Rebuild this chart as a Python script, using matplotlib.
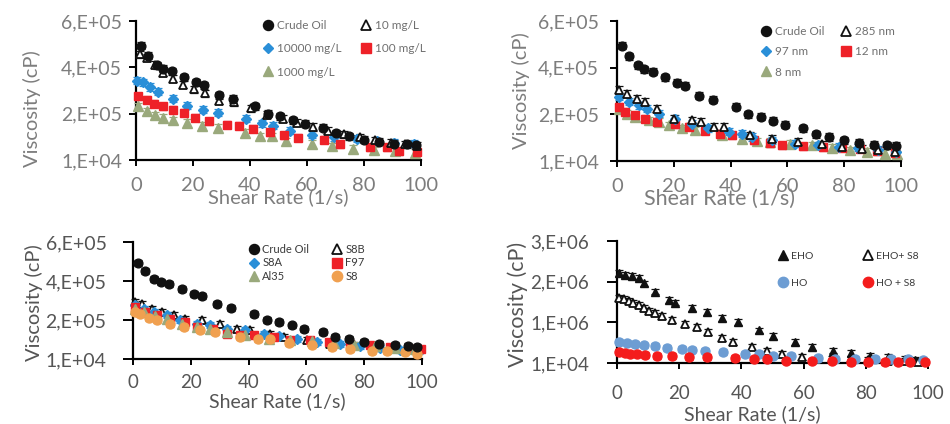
import numpy as np
import matplotlib
matplotlib.use("Agg")
import matplotlib.pyplot as plt
from matplotlib.ticker import FixedLocator, FuncFormatter
from matplotlib.lines import Line2D
from matplotlib.legend import Legend

plt.rcParams["font.family"] = ["Lato", "DejaVu Sans"]

# ---------------------------------------------------------------- data
# Crude oil reference curve (shared by the three upper/left panels)
crude_x = [1.9, 4.1, 7.3, 9.6, 12.6, 17.0, 21.2, 23.8, 29.0, 33.9, 41.9, 46.3,
           50.6, 55.0, 59.2, 65.6, 70.0, 74.8, 80.0, 85.2, 90.6, 95.0, 98.1]
crude_y = [4.96e5, 4.52e5, 4.13e5, 3.97e5, 3.86e5, 3.62e5, 3.39e5, 3.28e5,
           2.85e5, 2.69e5, 2.38e5, 2.06e5, 1.96e5, 1.79e5, 1.63e5, 1.47e5,
           1.23e5, 1.11e5, 9.7e4, 8.7e4, 7.9e4, 7.6e4, 7.3e4]

# Panel 1: concentration series
c10_x = [1.4, 3.7, 6.7, 9.5, 12.9, 16.6, 20.5, 24.2, 29.2, 34.4, 40.5, 46.0,
         51.5, 56.5, 62.0, 67.5, 73.0, 78.5, 84.0, 89.5, 94.5, 98.5]
c10_y = [4.59e5, 4.45e5, 4.14e5, 3.80e5, 3.54e5, 3.30e5, 3.10e5, 2.94e5,
         2.62e5, 2.56e5, 2.30e5, 2.02e5, 1.85e5, 1.68e5, 1.50e5, 1.35e5,
         1.20e5, 1.06e5, 9.4e4, 8.4e4, 7.6e4, 7.0e4]
c10000_x = [0.5, 2.6, 4.9, 7.8, 12.9, 17.8, 23.4, 28.9, 38.6, 44.1, 48.2, 54.1,
            61.7, 69.3, 77.5, 84.5, 90.4, 97.4]
c10000_y = [3.47e5, 3.40e5, 3.20e5, 3.00e5, 2.70e5, 2.40e5, 2.24e5, 2.10e5,
            1.85e5, 1.65e5, 1.56e5, 1.35e5, 1.18e5, 1.07e5, 1.00e5, 9.0e4,
            8.3e4, 8.0e4]
c100_x = [0.8, 3.7, 6.3, 9.3, 13.1, 16.9, 20.8, 25.5, 31.9, 36.0, 41.2, 47.1,
          51.8, 57.0, 65.8, 71.7, 82.2, 88.1, 92.2, 98.6]
c100_y = [2.80e5, 2.66e5, 2.49e5, 2.38e5, 2.24e5, 2.10e5, 1.89e5, 1.75e5,
          1.60e5, 1.56e5, 1.42e5, 1.28e5, 1.14e5, 1.04e5, 9.7e4, 7.6e4,
          6.5e4, 6.5e4, 4.8e4, 4.5e4]
c1000_x = [0.8, 3.7, 6.6, 9.5, 13.1, 17.8, 23.0, 28.9, 38.3, 43.6, 47.7, 52.5,
           61.7, 68.7, 76.3, 83.4, 91.0, 98.0]
c1000_y = [2.38e5, 2.17e5, 1.99e5, 1.89e5, 1.79e5, 1.68e5, 1.56e5, 1.47e5,
           1.25e5, 1.11e5, 1.11e5, 9.0e4, 8.0e4, 6.9e4, 5.8e4, 5.2e4, 4.8e4,
           4.1e4]

# Panel 2: particle size series
s285_x = [0.8, 3.5, 7.0, 10.0, 14.1, 19.9, 26.4, 29.5, 34.0, 37.5, 46.9, 54.5,
          63.9, 72.1, 79.1, 86.2, 92.0, 97.9]
s285_y = [3.09e5, 2.94e5, 2.73e5, 2.59e5, 2.31e5, 1.89e5, 1.82e5, 1.75e5,
          1.54e5, 1.54e5, 1.18e5, 1.04e5, 9.0e4, 8.0e4, 6.9e4, 6.2e4, 5.5e4,
          4.8e4]
s97_x = [0.8, 4.1, 7.6, 10.5, 14.7, 20.5, 26.4, 32.2, 39.3, 44.0, 47.5, 54.5,
         62.7, 70.9, 78.0, 85.0, 92.0, 98.1]
s97_y = [2.80e5, 2.59e5, 2.45e5, 2.31e5, 2.10e5, 1.89e5, 1.68e5, 1.47e5,
         1.33e5, 1.25e5, 1.11e5, 9.7e4, 8.3e4, 7.6e4, 6.9e4, 6.6e4, 5.8e4,
         4.8e4]
s12_x = [0.6, 2.9, 6.4, 10.0, 14.1, 20.5, 25.2, 31.1, 36.3, 40.4, 48.1, 53.9,
         58.0, 65.6, 72.7, 79.1, 85.6, 91.4, 97.9]
s12_y = [2.38e5, 2.17e5, 2.03e5, 1.89e5, 1.75e5, 1.65e5, 1.54e5, 1.37e5,
         1.25e5, 1.18e5, 9.7e4, 8.6e4, 7.6e4, 7.2e4, 6.9e4, 6.6e4, 6.2e4,
         5.2e4, 4.4e4]
s8_x = [0.6, 3.5, 6.4, 11.1, 14.7, 18.2, 22.9, 27.5, 36.9, 44.0, 49.2, 53.9,
        60.9, 68.6, 75.6, 82.1, 87.9, 94.4, 98.5]
s8_y = [2.31e5, 2.10e5, 1.96e5, 1.82e5, 1.75e5, 1.61e5, 1.47e5, 1.40e5,
        1.18e5, 1.04e5, 9.4e4, 9.0e4, 8.3e4, 7.6e4, 6.6e4, 5.5e4, 4.8e4,
        4.1e4, 3.8e4]

# Panel 3: nanoparticle type series
s8b_x = [0.8, 3.1, 6.6, 10.0, 14.1, 18.1, 23.9, 30.2, 36.0, 40.6, 47.5, 52.1,
         60.2, 68.3, 76.4, 84.4, 91.3, 98.3]
s8b_y = [2.97e5, 2.89e5, 2.64e5, 2.47e5, 2.30e5, 2.13e5, 2.05e5, 1.88e5,
         1.63e5, 1.55e5, 1.38e5, 1.21e5, 1.04e5, 8.7e4, 7.9e4, 7.0e4, 6.2e4,
         5.4e4]
s8a_x = [0.8, 3.7, 7.2, 11.8, 16.4, 22.1, 26.8, 32.5, 38.9, 45.2, 50.4, 56.7,
         63.7, 71.7, 78.7, 85.6, 92.5, 98.8]
s8a_y = [2.80e5, 2.64e5, 2.47e5, 2.30e5, 2.05e5, 1.88e5, 1.80e5, 1.63e5,
         1.55e5, 1.38e5, 1.26e5, 1.13e5, 9.6e4, 8.7e4, 7.6e4, 6.6e4, 5.7e4,
         4.9e4]
f97_x = [0.8, 4.2, 8.3, 12.9, 18.0, 22.1, 27.8, 32.5, 37.1, 41.7, 48.7, 54.4,
         61.4, 67.7, 75.2, 82.1, 89.0, 95.9, 99.7]
f97_y = [2.72e5, 2.47e5, 2.30e5, 2.13e5, 1.97e5, 1.71e5, 1.63e5, 1.38e5,
         1.29e5, 1.33e5, 1.21e5, 1.04e5, 1.04e5, 9.6e4, 8.7e4, 7.9e4, 7.0e4,
         6.2e4, 5.9e4]
al35_x = [0.8, 3.7, 7.7, 11.8, 17.0, 22.1, 26.8, 32.5, 38.9, 46.9, 54.4, 61.9,
          69.4, 76.4, 83.9, 90.8, 97.7]
al35_y = [2.64e5, 2.47e5, 2.27e5, 2.10e5, 1.88e5, 1.71e5, 1.60e5, 1.46e5,
          1.29e5, 1.13e5, 1.04e5, 9.9e4, 9.2e4, 8.2e4, 7.6e4, 6.6e4, 5.9e4]
ss8_x = [0.8, 2.5, 5.4, 8.3, 12.9, 17.5, 23.3, 28.4, 37.1, 43.4, 47.5, 53.9,
         62.0, 68.9, 75.2, 82.7, 87.9, 94.2, 98.3]
ss8_y = [2.47e5, 2.39e5, 2.17e5, 2.05e5, 1.88e5, 1.71e5, 1.55e5, 1.46e5,
         1.21e5, 1.13e5, 1.13e5, 9.2e4, 7.9e4, 7.1e4, 5.9e4, 4.9e4, 4.9e4,
         4.5e4, 3.7e4]

# Panel 4: heavy / extra-heavy oil
eho_x = [0.7, 2.7, 4.8, 7.0, 8.6, 12.3, 16.6, 18.7, 24.1, 28.9, 33.7, 39.0,
         45.5, 50.3, 57.2, 62.6, 69.5, 75.4, 81.3, 87.2, 92.5, 95.7]
eho_y = [2.21e6, 2.17e6, 2.14e6, 2.09e6, 1.96e6, 1.76e6, 1.55e6, 1.49e6,
         1.35e6, 1.26e6, 1.11e6, 1.02e6, 8.1e5, 6.7e5, 5.2e5, 3.97e5, 3.15e5,
         2.57e5, 1.91e5, 1.50e5, 1.09e5, 9.2e4]
ehos8_x = [0.7, 2.1, 3.7, 5.3, 7.0, 8.6, 10.2, 12.3, 14.4, 17.6, 21.9, 25.7,
           29.4, 33.7, 37.4, 43.3, 48.1, 52.9, 59.4, 69.0, 75.4, 80.7, 87.2,
           92.5, 96.8]
ehos8_y = [1.61e6, 1.58e6, 1.53e6, 1.49e6, 1.43e6, 1.35e6, 1.29e6, 1.24e6,
           1.16e6, 1.06e6, 9.7e5, 8.9e5, 7.7e5, 6.2e5, 5.2e5, 3.97e5, 3.15e5,
           2.33e5, 1.50e5, 1.09e5, 1.09e5, 9.2e4, 6.8e4, 6.8e4, 4.3e4]
ho_x = [0.7, 3.2, 5.9, 8.6, 12.3, 16.0, 20.9, 24.1, 28.3, 34.2, 41.2, 45.5,
        50.3, 56.1, 64.7, 70.1, 76.5, 82.9, 88.2, 93.6, 98.4]
ho_y = [5.2e5, 4.96e5, 4.8e5, 4.39e5, 4.22e5, 3.73e5, 3.56e5, 3.40e5, 3.15e5,
        2.74e5, 2.33e5, 2.33e5, 1.91e5, 1.75e5, 1.25e5, 1.09e5, 1.09e5,
        1.09e5, 1.09e5, 1.09e5, 9.2e4]
hos8_x = [0.7, 2.5, 4.3, 6.4, 9.1, 12.8, 17.6, 23.0, 28.9, 38.0, 43.9, 48.1,
          54.5, 62.6, 69.0, 75.4, 80.7, 86.1, 90.4, 94.1, 98.9]
hos8_y = [2.74e5, 2.57e5, 2.33e5, 2.33e5, 2.08e5, 1.75e5, 1.75e5, 1.50e5,
          1.50e5, 1.25e5, 1.09e5, 1.09e5, 6.8e4, 6.8e4, 6.8e4, 4.3e4, 4.3e4,
          4.3e4, 4.3e4, 4.3e4, 4.3e4]

# error bar half-widths
err_small = 1.5e4
err_large = 7.0e4

# axis ranges
x_range = (0, 100)
y_range_small = (1e4, 6e5)
y_range_large = (1e4, 3e6)
x_ticks = [0, 20, 40, 60, 80, 100]

x_title = "Shear Rate (1/s)"
y_title = "Viscosity (cP)"

# ---------------------------------------------------------------- styles
BLACK = "#111111"
BLUE = "#2a8fd8"
RED = "#ee2128"
OLIVE = "#9aa97c"
ORANGE = "#f0a050"
LBLUE = "#6d9dd3"
BRED = "#f41c1c"

STY = {
    "crude": dict(marker="o", mfc=BLACK, mec=BLACK, ms=6.3, ecolor=BLACK),
    "open": dict(marker="^", mfc="white", mec=BLACK, ms=5.8, mew=1.3, ecolor=BLACK),
    "blue": dict(marker="D", mfc=BLUE, mec=BLUE, ms=4.6, ecolor=BLUE),
    "red": dict(marker="s", mfc=RED, mec=RED, ms=5.8, ecolor=RED),
    "olive": dict(marker="^", mfc=OLIVE, mec=OLIVE, ms=6.5, ecolor=OLIVE),
    "orange": dict(marker="o", mfc=ORANGE, mec=ORANGE, ms=6.5, ecolor=ORANGE),
    "eho": dict(marker="^", mfc=BLACK, mec=BLACK, ms=6.3, ecolor=BLACK),
    "ho": dict(marker="o", mfc=LBLUE, mec=LBLUE, ms=6.5, ecolor=LBLUE),
    "hos8": dict(marker="o", mfc=BRED, mec=BRED, ms=6.5, ecolor=BRED),
}

W, H = 950, 424
fig = plt.figure(figsize=(W / 100, H / 100), dpi=100)


def rect(x0, y0, x1, y1):
    return [x0 / W, 1 - y1 / H, (x1 - x0) / W, (y1 - y0) / H]


def excel_sci(v, pos):
    e = int(np.floor(np.log10(v)))
    m = int(round(v / 10 ** e))
    if m == 10:
        m, e = 1, e + 1
    return f"{m},E+{e:02d}"


def draw_series(ax, x, y, err, key, label):
    s = dict(STY[key])
    ec = s.pop("ecolor")
    ax.errorbar(x, y, yerr=err, fmt="none", ecolor=ec, elinewidth=0.9,
                capsize=2.6, capthick=0.9, clip_on=False, zorder=3)
    ax.plot(x, y, ls="none", clip_on=False, zorder=4, **s)
    return Line2D([], [], ls="none", **s), label


def legend_column(ax, items, mx, my, fs, pitch, color):
    handles = [h for h, _ in items]
    labels = [l for _, l in items]
    fs_px = fs / 0.72
    row_h = fs_px * 1.2
    ls = (pitch - row_h) / fs_px
    left = mx - 0.5 * fs_px
    top = my - row_h / 2
    leg = Legend(ax, handles, labels, loc="upper left",
                 bbox_to_anchor=(left / W, 1 - top / H),
                 bbox_transform=fig.transFigure, frameon=False,
                 fontsize=fs, handlelength=1.0, handletextpad=0.25,
                 borderpad=0, borderaxespad=0, labelspacing=ls,
                 markerscale=1.15, labelcolor=color)
    ax.add_artist(leg)


def style_axes(ax, yr, cfg):
    ax.set_xlim(*x_range)
    ax.set_ylim(*yr)
    ax.xaxis.set_major_locator(FixedLocator(x_ticks))
    ax.yaxis.set_major_locator(FixedLocator(np.linspace(yr[0], yr[1], 4)))
    ax.yaxis.set_major_formatter(FuncFormatter(excel_sci))
    for side in ("top", "right"):
        ax.spines[side].set_visible(False)
    for side in ("left", "bottom"):
        ax.spines[side].set_linewidth(1.6)
        ax.spines[side].set_color("black")
    ax.tick_params(axis="both", direction="out", width=1.4, color="black")
    ax.tick_params(axis="y", length=cfg["ytl"], pad=cfg["ypad"],
                   labelsize=cfg["yfs"], labelcolor=cfg["tc"])
    ax.tick_params(axis="x", length=4.5, pad=cfg["xpad"],
                   labelsize=cfg["xfs"], labelcolor=cfg["tc"])
    ax.set_xlabel(x_title, fontsize=cfg["xlfs"], color=cfg["tc"])
    ax.set_ylabel(y_title, fontsize=cfg["ylfs"], color=cfg["tc"])
    ax.xaxis.set_label_coords(*cfg["xlc"])
    ax.yaxis.set_label_coords(*cfg["ylc"])
    ax.patch.set_alpha(0)


GRAY_TOP = "#7d7d7d"
GRAY_BOT = "#555555"
LEG_TOP = "#707070"
LEG_BOT = "#3a3a3a"

# ---------------------------------------------------------------- panel 1
ax1 = fig.add_axes(rect(136, 21, 421, 160))
it = {}
it["c1000"] = draw_series(ax1, c1000_x, c1000_y, err_small, "olive", "1000 mg/L")
it["c10000"] = draw_series(ax1, c10000_x, c10000_y, err_small, "blue", "10000 mg/L")
it["c100"] = draw_series(ax1, c100_x, c100_y, err_small, "red", "100 mg/L")
it["c10"] = draw_series(ax1, c10_x, c10_y, err_small, "open", "10 mg/L")
it["crude"] = draw_series(ax1, crude_x, crude_y, err_small, "crude", "Crude Oil")
style_axes(ax1, y_range_small, dict(ytl=5, ypad=5, yfs=14, xpad=8, xfs=14.5,
                                     xlfs=14.5, ylfs=14.5, tc=GRAY_TOP,
                                     xlc=(0.5, -0.20), ylc=(-0.335, 0.37)))
legend_column(ax1, [it["crude"], it["c10000"], it["c1000"]], 268, 27, 8.5, 26.5, LEG_TOP)
legend_column(ax1, [it["c10"], it["c100"]], 366, 27, 8.5, 26.5, LEG_TOP)

# ---------------------------------------------------------------- panel 2
ax2 = fig.add_axes(rect(617, 21, 901, 161))
it = {}
it["s8"] = draw_series(ax2, s8_x, s8_y, err_small, "olive", "8 nm")
it["s12"] = draw_series(ax2, s12_x, s12_y, err_small, "red", "12 nm")
it["s97"] = draw_series(ax2, s97_x, s97_y, err_small, "blue", "97 nm")
it["s285"] = draw_series(ax2, s285_x, s285_y, err_small, "open", "285 nm")
it["crude"] = draw_series(ax2, crude_x, crude_y, err_small, "crude", "Crude Oil")
style_axes(ax2, y_range_small, dict(ytl=5, ypad=8, yfs=14, xpad=8, xfs=14.5,
                                     xlfs=15.5, ylfs=14.5, tc=GRAY_TOP,
                                     xlc=(0.36, -0.20), ylc=(-0.305, 0.50)))
legend_column(ax2, [it["crude"], it["s97"], it["s8"]], 766, 33, 8.5, 23.5, LEG_TOP)
legend_column(ax2, [it["s285"], it["s12"]], 846, 33, 8.5, 23.5, LEG_TOP)

# ---------------------------------------------------------------- panel 3
ax3 = fig.add_axes(rect(133, 242, 422, 359))
it = {}
it["s8b"] = draw_series(ax3, s8b_x, s8b_y, err_small, "open", "S8B")
it["s8a"] = draw_series(ax3, s8a_x, s8a_y, err_small, "blue", "S8A")
it["f97"] = draw_series(ax3, f97_x, f97_y, err_small, "red", "F97")
it["al35"] = draw_series(ax3, al35_x, al35_y, err_small, "olive", "Al35")
it["ss8"] = draw_series(ax3, ss8_x, ss8_y, err_small, "orange", "S8")
it["crude"] = draw_series(ax3, crude_x, crude_y, err_small, "crude", "Crude Oil")
style_axes(ax3, y_range_small, dict(ytl=7, ypad=12, yfs=14, xpad=6, xfs=13.5,
                                     xlfs=14, ylfs=14.5, tc=GRAY_BOT,
                                     xlc=(0.5, -0.28), ylc=(-0.31, 0.48)))
legend_column(ax3, [it["crude"], it["s8a"], it["al35"]], 254, 251, 8, 15.5, LEG_BOT)
legend_column(ax3, [it["s8b"], it["f97"], it["ss8"]], 337, 251, 8, 15.5, LEG_BOT)

# ---------------------------------------------------------------- panel 4
ax4 = fig.add_axes(rect(617, 241, 928, 363))
it = {}
it["eho"] = draw_series(ax4, eho_x, eho_y, err_large, "eho", "EHO")
it["ehos8"] = draw_series(ax4, ehos8_x, ehos8_y, err_large, "open", "EHO+ S8")
it["ho"] = draw_series(ax4, ho_x, ho_y, err_large, "ho", "HO")
it["hos8"] = draw_series(ax4, hos8_x, hos8_y, err_large, "hos8", "HO + S8")
style_axes(ax4, y_range_large, dict(ytl=7, ypad=13, yfs=13.5, xpad=11, xfs=13.5,
                                     xlfs=14, ylfs=15.5, tc=GRAY_BOT,
                                     xlc=(0.434, -0.35), ylc=(-0.285, 0.48)))
legend_column(ax4, [it["eho"], it["ho"]], 783, 258, 7.5, 30, LEG_BOT)
legend_column(ax4, [it["ehos8"], it["hos8"]], 868, 258, 7.5, 30, LEG_BOT)

fig.savefig("out.png", dpi=100)
